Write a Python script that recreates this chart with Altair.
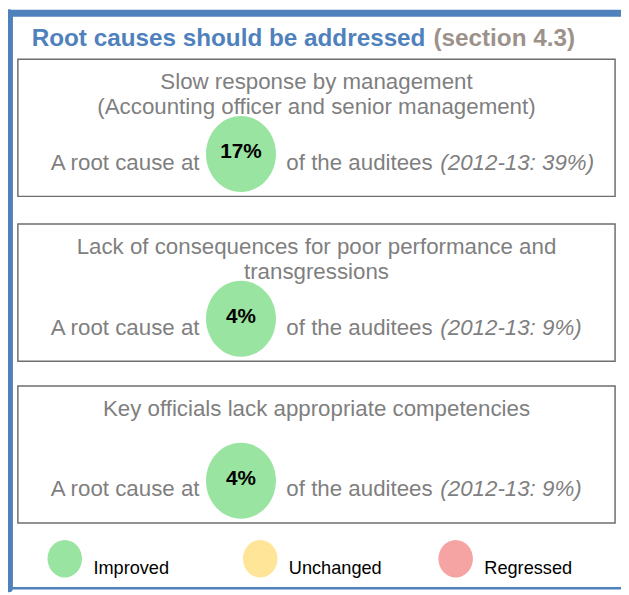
import altair as alt
import pandas as pd

# ---------------- data ----------------
title_main = "Root causes should be addressed"
title_section = "(section 4.3)"
causes = [
    "Slow response by management\n(Accounting officer and senior management)",
    "Lack of consequences for poor performance and\ntransgressions",
    "Key officials lack appropriate competencies",
]
current_pct = [17, 4, 4]
prior_pct = [39, 9, 9]
prior_year = "2012-13"
status = ["Improved", "Improved", "Improved"]
lead_text = "A root cause at"
tail_text = "of the auditees"
legend_labels = ["Improved", "Unchanged", "Regressed"]
legend_colors = ["#98E4A0", "#FFE597", "#F5A3A3"]

# ---------------- layout / style ----------------
OFF = 8  # page margin
CW, CH = 629 - OFF, 595 - OFF
xs = alt.Scale(domain=[OFF, 629], range=[0, CW], nice=False, zero=False)
ys = alt.Scale(domain=[OFF, 595], range=[0, CH], nice=False, zero=False)

BLUE = "#4F81BD"
GREY_TXT = "#7F7F7F"
BODY_FONT = "Liberation Sans, Arial, sans-serif"
BODY_SIZE = 22.6
ELLIPSE = "M-0.92,0A0.92,1,0,1,1,0.92,0A0.92,1,0,1,1,-0.92,0Z"

BOX_L, BOX_R = 18, 623
BOX_TOPS = [56, 223, 387]
BOX_H = 139
CENTER_X = (BOX_L + BOX_R) / 2
BUBBLE_X = 244

n = len(causes)
tops = BOX_TOPS[:n]

color_scale = alt.Scale(domain=legend_labels, range=legend_colors)


def X(f="x"):
    return alt.X(f"{f}:Q", scale=xs, axis=None)


def Y(f="y"):
    return alt.Y(f"{f}:Q", scale=ys, axis=None)


# frame
frame = pd.DataFrame({
    "x": [9, 9, 9],
    "x2": [9, 629, 629],
    "y": [9.5, 9.5, 592],
    "y2": [592, 9.5, 592],
    "w": [8, 7, 2.5],
})
frame_layer = alt.Chart(frame).mark_rule(color=BLUE, strokeCap="round").encode(
    x=X(), x2="x2:Q", y=Y(), y2="y2:Q",
    strokeWidth=alt.StrokeWidth("w:Q", scale=None),
)

# title
t1 = alt.Chart(pd.DataFrame({"x": [32], "y": [43], "t": [title_main]})).mark_text(
    align="left", baseline="alphabetic", font=BODY_FONT, fontSize=24.6,
    fontWeight="bold", color=BLUE,
).encode(x=X(), y=Y(), text="t:N")
t2 = alt.Chart(pd.DataFrame({"x": [439], "y": [43], "t": [title_section]})).mark_text(
    align="left", baseline="alphabetic", font=BODY_FONT, fontSize=24.6,
    fontWeight="bold", color="#9D928B",
).encode(x=X(), y=Y(), text="t:N")

# boxes
boxes = pd.DataFrame({
    "x": [BOX_L] * n, "x2": [BOX_R] * n,
    "y": tops, "y2": [t + BOX_H for t in tops],
})
box_layer = alt.Chart(boxes).mark_rect(
    fillOpacity=0, stroke="#6E6E6E", strokeWidth=1.5
).encode(x=X(), x2="x2:Q", y=Y(), y2="y2:Q")

rows = pd.DataFrame({
    "cause": causes,
    "cur": [f"{c}%" for c in current_pct],
    "prior": [f"({prior_year}: {p}%)" for p in prior_pct],
    "status": status,
    "lead": [lead_text] * n,
    "tail": [tail_text] * n,
    "top": tops,
})
rows["title_y"] = rows["top"] + 30
rows["row_y"] = rows["top"] + 112
rows["bub_y"] = rows["top"] + 96
rows["pct_y"] = rows["top"] + 100
rows["cx"] = CENTER_X
rows["bx"] = BUBBLE_X
rows["lead_x"] = 202
rows["tail_x"] = 290
rows["prior_x"] = 446

base = alt.Chart(rows)
cause_layer = base.mark_text(
    align="center", baseline="alphabetic", font=BODY_FONT, fontSize=BODY_SIZE,
    color=GREY_TXT, lineBreak="\n", lineHeight=26,
).encode(x=X("cx"), y=Y("title_y"), text="cause:N")

bubble_layer = base.mark_point(shape=ELLIPSE, filled=True, size=77 * 77, opacity=1).encode(
    x=X("bx"), y=Y("bub_y"),
    color=alt.Color("status:N", scale=color_scale, legend=None),
)
pct_layer = base.mark_text(
    align="center", baseline="alphabetic", font=BODY_FONT, fontSize=21,
    fontWeight="bold", color="#000000",
).encode(x=X("bx"), y=Y("pct_y"), text="cur:N")

lead_layer = base.mark_text(
    align="right", baseline="alphabetic", font=BODY_FONT, fontSize=BODY_SIZE, color=GREY_TXT,
).encode(x=X("lead_x"), y=Y("row_y"), text="lead:N")
tail_layer = base.mark_text(
    align="left", baseline="alphabetic", font=BODY_FONT, fontSize=BODY_SIZE, color=GREY_TXT,
).encode(x=X("tail_x"), y=Y("row_y"), text="tail:N")
prior_layer = base.mark_text(
    align="left", baseline="alphabetic", font=BODY_FONT, fontSize=BODY_SIZE, color=GREY_TXT,
    fontStyle="italic",
).encode(x=X("prior_x"), y=Y("row_y"), text="prior:N")

# legend
leg = pd.DataFrame({"label": legend_labels, "i": list(range(len(legend_labels)))})
leg["ex"] = 65.5 + leg["i"] * 198
leg["lx"] = leg["ex"] + 29
leg["ey"] = 562
leg["ly"] = 578
lbase = alt.Chart(leg)
leg_dots = lbase.mark_point(shape=ELLIPSE, filled=True, size=38 * 38, opacity=1).encode(
    x=X("ex"), y=Y("ey"),
    color=alt.Color("label:N", scale=color_scale, legend=None),
)
leg_text = lbase.mark_text(
    align="left", baseline="alphabetic", font=BODY_FONT, fontSize=18.4, color="#000000",
).encode(x=X("lx"), y=Y("ly"), text="label:N")

chart = alt.layer(
    frame_layer, t1, t2, box_layer, cause_layer, bubble_layer, pct_layer,
    lead_layer, tail_layer, prior_layer, leg_dots, leg_text,
).properties(
    width=CW, height=CH, autosize=alt.AutoSizeParams(type="none"), padding=0,
).configure_view(strokeWidth=0)

chart.save("out.html", embed_options={"renderer": "svg", "actions": False})
